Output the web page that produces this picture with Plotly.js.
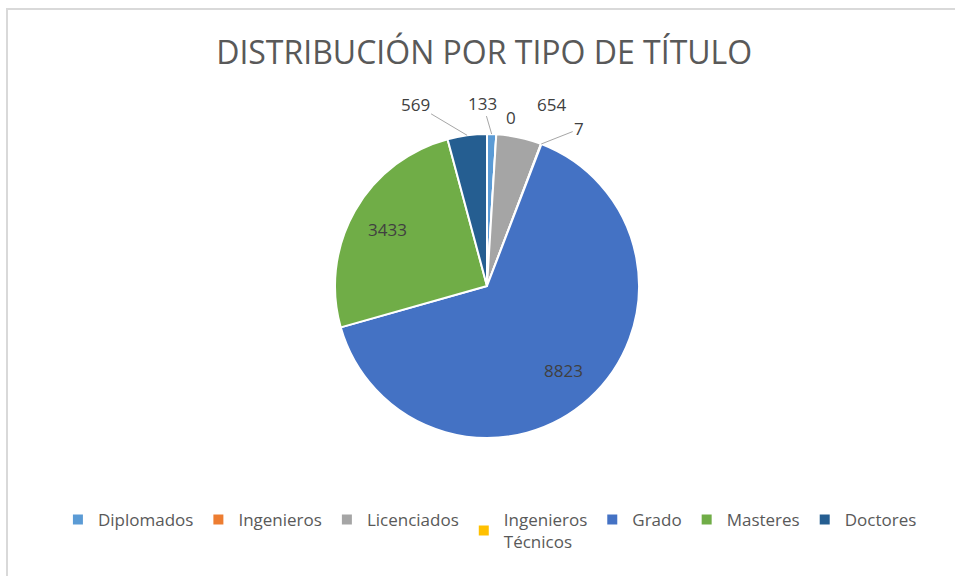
<!DOCTYPE html>
<html>
<head>
<meta charset="utf-8">
<script src="https://cdn.plot.ly/plotly-3.0.1.min.js"></script>
<style>html,body{margin:0;padding:0;background:#fff;}#chart{width:955px;height:576px;}</style>
</head>
<body>
<div id="chart"></div>
<script>
const categories = ["Diplomados", "Ingenieros", "Licenciados", "Ingenieros<br>Técnicos", "Grado", "Masteres", "Doctores"];
const values = [133, 0, 654, 7, 8823, 3433, 569];
const colors = ["#5B9BD5", "#ED7D31", "#A5A5A5", "#FFC000", "#4472C4", "#70AD47", "#255E91"];
const title = "DISTRIBUCIÓN POR TIPO DE TÍTULO";

const W = 955, H = 576;
const cx = 487, cy = 286, R = 152;
const FONT = "Open Sans, sans-serif";

const data = [{
  type: "pie",
  labels: categories,
  values: values,
  sort: false,
  direction: "clockwise",
  rotation: 0,
  marker: {colors: colors, line: {color: "#ffffff", width: 2}},
  textinfo: "none",
  hoverinfo: "label+value",
  domain: {x: [(cx - 200) / W, (cx + 200) / W], y: [1 - (cy + R) / H, 1 - (cy - R) / H]},
  showlegend: true
}];

// Data labels: anchored on slice mid-angles computed from the values
const total = values.reduce((a, b) => a + b, 0);
// [dx, dy, showLine] offsets of outside labels from the slice edge
const outside = {0: [-9, -31, true], 1: [15, -17, false], 2: [32, -33, false], 3: [38, -15, true], 6: [-52, -31, true]};
const annotations = [];
let acc = 0;
values.forEach((v, i) => {
  const mid = (acc + v / 2) / total * 2 * Math.PI;
  acc += v;
  const font = {family: FONT, size: 17, color: "#404040"};
  if (i in outside) {
    const px = cx + R * Math.sin(mid);
    const py = cy - R * Math.cos(mid);
    annotations.push({
      xref: "paper", yref: "paper", x: px / W, y: 1 - py / H,
      ax: outside[i][0], ay: outside[i][1], text: String(v),
      showarrow: true, arrowhead: 0, arrowwidth: 1,
      arrowcolor: outside[i][2] ? "#a6a6a6" : "rgba(0,0,0,0)", font: font
    });
  } else {
    const r = 0.75 * R;
    annotations.push({
      xref: "paper", yref: "paper",
      x: (cx + r * Math.sin(mid)) / W, y: 1 - (cy - r * Math.cos(mid)) / H,
      text: String(v), showarrow: false, font: font
    });
  }
});

const layout = {
  width: W, height: H,
  margin: {l: 0, r: 0, t: 0, b: 0},
  paper_bgcolor: "#ffffff",
  title: {text: title, font: {family: FONT, size: 32, color: "#595959"}, x: 0.507, xanchor: "center", y: 1 - 53 / H, yanchor: "middle"},
  legend: {orientation: "h", x: 0.513, xanchor: "center", y: 1 - 502 / H, yanchor: "top",
           font: {family: FONT, size: 17, color: "#595959"}, traceorder: "normal", itemwidth: 30},
  annotations: annotations,
  shapes: [{type: "rect", xref: "paper", yref: "paper", x0: 7 / W, x1: 1.02, y0: -0.02, y1: 1 - 9 / H,
            line: {color: "#d9d9d9", width: 2}, fillcolor: "rgba(0,0,0,0)"}]
};

Plotly.newPlot("chart", data, layout, {displayModeBar: false, staticPlot: true});
</script>
</body>
</html>
